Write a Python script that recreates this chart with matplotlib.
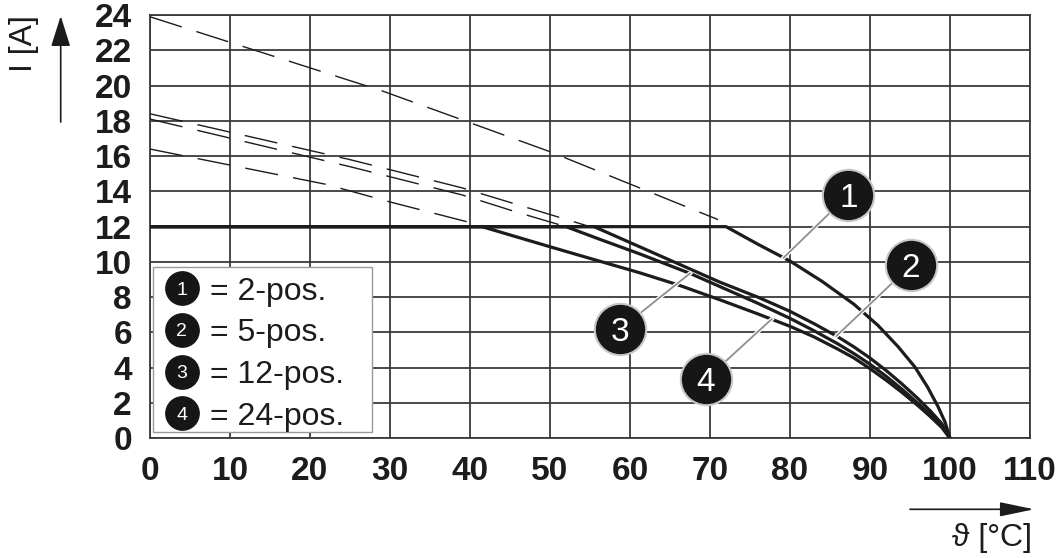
#!/usr/bin/env python3
"""Derating curve: current vs ambient temperature for 2/5/12/24-pos. headers."""

import matplotlib
matplotlib.use("Agg")
import matplotlib.pyplot as plt
import numpy as np

plt.rcParams["font.family"] = ["Liberation Sans", "DejaVu Sans"]

FIG_W, FIG_H = 10.6, 5.58
INK = "#1c1c1c"

# ---- data ----
temp_c1 = [0, 72, 76, 80, 84, 88, 91, 93.5, 95.6, 97.2, 98.5, 99.4, 100]
amp_c1 = [12, 12, 11.0, 10.05, 8.9, 7.6, 6.4, 5.2, 4.05, 2.9, 1.8, 0.9, 0]

temp_c2 = [0, 55.5, 58, 61.25, 66, 71.25, 76, 80, 83, 86, 88, 90, 92, 94, 96, 97.5, 99, 100]
amp_c2 = [12, 12, 11.5, 10.85, 9.9, 8.85, 8.0, 7.2, 6.5, 5.75, 5.18, 4.55, 3.85, 3.08, 2.25, 1.57, 0.82, 0]

temp_c3 = [0, 52, 56, 61.25, 67.5, 71.25, 76, 80, 83, 86, 88, 90, 92, 94, 96, 97.5, 99, 100]
amp_c3 = [12, 12, 11.32, 10.45, 9.35, 8.6, 7.65, 6.8, 6.1, 5.35, 4.8, 4.2, 3.52, 2.78, 1.98, 1.35, 0.66, 0]

temp_c4 = [0, 41.5, 50, 55, 61.25, 66, 71.25, 76, 80, 83, 86, 88, 90, 92, 94, 96, 97.5, 99, 100]
amp_c4 = [12, 12, 10.86, 10.2, 9.38, 8.7, 7.85, 7.05, 6.35, 5.75, 5.05, 4.55, 3.95, 3.3, 2.6, 1.85, 1.25, 0.6, 0]

# dashed extensions above the 12 A limit
dash_t1 = [0, 29, 50, 71]
dash_a1 = [23.9, 19.7, 16.25, 12.4]
dash_t2 = [0, 25, 39, 47, 55]
dash_a2 = [18.4, 15.8, 14.2, 13.1, 12.0]
dash_t3 = [0, 25, 39, 46, 52]
dash_a3 = [18.1, 15.4, 13.8, 12.8, 12.0]
dash_t4 = [0, 22, 30, 42]
dash_a4 = [16.4, 14.4, 13.4, 12.0]

labels = ["1", "2", "3", "4"]
legend_text = ["= 2-pos.", "= 5-pos.", "= 12-pos.", "= 24-pos."]

x_ticks = list(range(0, 111, 10))
y_ticks = list(range(0, 25, 2))

curves = [(temp_c1, amp_c1), (temp_c2, amp_c2), (temp_c3, amp_c3), (temp_c4, amp_c4)]
dashes = [(dash_t1, dash_a1), (dash_t2, dash_a2), (dash_t3, dash_a3), (dash_t4, dash_a4)]

# callout bubble positions (data coords) and the temperature where the leader meets the curve
bubble_pos = [(87.3, 13.8), (95.1, 9.8), (58.8, 6.2), (69.5, 3.35)]
leader_at = [79.2, 85.8, 67.5, 77.7]


fig = plt.figure(figsize=(FIG_W, FIG_H), dpi=100)
ax = fig.add_axes([150 / 1060, 1 - 438.3 / 558, 880 / 1060, 423.3 / 558])

ax.set_xlim(0, 110)
ax.set_ylim(0, 24)
ax.set_xticks(x_ticks)
ax.set_yticks(y_ticks)
ax.tick_params(axis="both", length=0, pad=13, labelsize=24, labelcolor=INK)
for lab in ax.get_xticklabels() + ax.get_yticklabels():
    lab.set_fontweight("bold")

ax.grid(True, color="#3a3a3a", lw=1.3)
ax.set_axisbelow(True)
for sp in ax.spines.values():
    sp.set_color("#3a3a3a")
    sp.set_linewidth(1.3)

for t, a in dashes:
    ax.plot(t, a, color=INK, lw=1.0, dashes=(24, 11), zorder=3)

for t, a in curves:
    ax.plot(t, a, color=INK, lw=2.3, solid_joinstyle="round", zorder=4)

# callouts
for (bx, by), xt, (t, a), lab in zip(bubble_pos, leader_at, curves, labels):
    yt = np.interp(xt, t, a)
    ax.plot([xt, bx], [yt, by], color="white", lw=3.0, zorder=5)
    ax.plot([xt, bx], [yt, by], color="#8f8f8f", lw=1.3, zorder=5)
    ax.plot(bx, by, "o", ms=37, mfc="#161616", mec="#c8c8c8", mew=1.5, zorder=6)
    ax.text(bx, by, lab, color="white", fontsize=24, ha="center", va="center_baseline", zorder=7)

# legend box
ax.add_patch(plt.Rectangle((0.0036, 0.0155), 0.2484, 0.3895, transform=ax.transAxes,
                           facecolor="white", edgecolor="#9a9a9a", lw=1.0, zorder=5))
row_y = [0.354, 0.256, 0.157, 0.059]
for ry, lab, txt in zip(row_y, labels, legend_text):
    ax.plot(0.036, ry, "o", ms=24, mfc="#161616", mec="#161616", transform=ax.transAxes, zorder=6)
    ax.text(0.036, ry, lab, color="white", fontsize=14, ha="center", va="center_baseline",
            transform=ax.transAxes, zorder=7)
    ax.text(0.068, ry, txt, color=INK, fontsize=23, ha="left", va="center_baseline",
            transform=ax.transAxes, zorder=7)

# axis labels with arrows
fig.text(24 / 1060, 1 - 43.5 / 558, "I [A]", rotation=90, ha="center", va="center",
         fontsize=23, color=INK)
ax.annotate("", xy=(60.7 / 1060, 1 - 16 / 558), xytext=(60.7 / 1060, 1 - 122 / 558),
            xycoords="figure fraction", textcoords="figure fraction",
            arrowprops=dict(arrowstyle="-|>,head_length=0.95,head_width=0.3", color=INK,
                            lw=1.2, mutation_scale=20, shrinkA=0, shrinkB=0))
ax.annotate("", xy=(1034 / 1060, 1 - 509.3 / 558), xytext=(910 / 1060, 1 - 509.3 / 558),
            xycoords="figure fraction", textcoords="figure fraction",
            arrowprops=dict(arrowstyle="-|>,head_length=1.05,head_width=0.22", color=INK,
                            lw=1.2, mutation_scale=20, shrinkA=0, shrinkB=0))
fig.text(1032 / 1060, 1 - 538 / 558, "ϑ [°C]", ha="right", va="center",
         fontsize=23, color=INK)

fig.savefig("out.png", dpi=100, facecolor="white")
